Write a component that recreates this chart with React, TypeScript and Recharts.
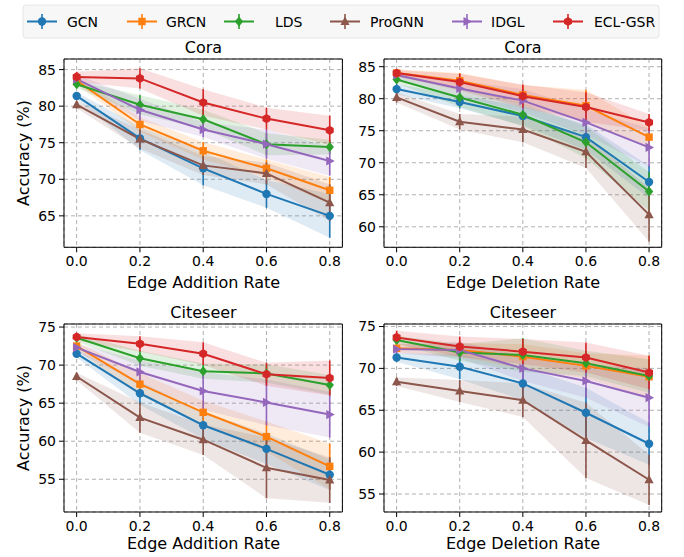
import React from "react";
import {
  ComposedChart,
  Line,
  Area,
  XAxis,
  YAxis,
  CartesianGrid,
  ErrorBar,
  ReferenceArea,
} from "recharts";

const METHODS = ["GCN", "GRCN", "LDS", "ProGNN", "IDGL", "ECL-GSR"];
const RATES = [0, 0.2, 0.4, 0.6, 0.8];

// rows follow METHODS order, columns follow RATES
const coraAddMean = [
  [81.4, 75.6, 71.5, 68.0, 65.0],
  [83.5, 77.5, 73.9, 71.5, 68.5],
  [83.0, 80.2, 78.2, 74.8, 74.4],
  [80.2, 75.5, 71.9, 70.8, 66.8],
  [83.7, 79.5, 76.8, 74.8, 72.5],
  [84.0, 83.8, 80.5, 78.3, 76.7],
];
const coraAddStd = [
  [0.5, 1.6, 2.3, 1.9, 3.0],
  [0.5, 1.0, 1.2, 1.2, 1.8],
  [0.5, 1.3, 1.3, 1.5, 1.0],
  [0.5, 1.3, 1.3, 1.5, 2.5],
  [0.6, 1.5, 1.0, 2.0, 2.0],
  [0.7, 1.4, 1.8, 1.5, 2.0],
];
const coraDelMean = [
  [81.5, 79.5, 77.3, 74.0, 67.0],
  [84.0, 82.8, 80.6, 78.9, 74.0],
  [83.0, 80.2, 77.5, 73.2, 65.5],
  [80.2, 76.4, 75.2, 71.7, 61.9],
  [83.7, 81.6, 79.7, 76.3, 72.4],
  [84.0, 82.6, 80.4, 78.7, 76.3],
];
const coraDelStd = [
  [0.8, 1.0, 1.5, 2.0, 2.5],
  [0.6, 1.2, 1.5, 2.5, 1.5],
  [0.6, 1.5, 1.8, 2.5, 3.0],
  [0.8, 1.2, 2.0, 2.5, 4.2],
  [0.5, 1.2, 1.8, 2.0, 3.0],
  [0.5, 1.3, 1.8, 2.3, 1.3],
];
const citeAddMean = [
  [71.5, 66.3, 62.1, 59.0, 55.6],
  [72.5, 67.5, 63.8, 60.6, 56.7],
  [73.6, 70.9, 69.2, 68.9, 67.4],
  [68.5, 63.1, 60.2, 56.5, 54.9],
  [72.3, 69.1, 66.6, 65.1, 63.5],
  [73.7, 72.8, 71.5, 68.8, 68.3],
];
const citeAddStd = [
  [0.5, 1.5, 1.8, 2.0, 2.0],
  [0.5, 1.5, 1.5, 2.0, 3.0],
  [0.5, 1.0, 1.0, 1.2, 1.3],
  [0.5, 2.0, 2.0, 4.0, 3.0],
  [0.5, 1.5, 2.5, 3.0, 3.0],
  [0.5, 1.0, 1.5, 1.5, 2.3],
];
const citeDelMean = [
  [71.3, 70.2, 68.2, 64.7, 61.0],
  [72.4, 72.2, 71.4, 70.3, 69.0],
  [73.4, 71.9, 71.6, 70.6, 69.1],
  [68.4, 67.3, 66.2, 61.4, 56.7],
  [72.3, 72.2, 70.0, 68.5, 66.5],
  [73.7, 72.6, 72.0, 71.3, 69.5],
];
const citeDelStd = [
  [0.5, 1.5, 2.0, 3.0, 2.5],
  [0.5, 0.8, 1.5, 1.5, 2.5],
  [0.5, 1.0, 2.0, 1.5, 2.0],
  [0.5, 1.3, 2.0, 4.5, 3.0],
  [0.5, 1.0, 1.5, 2.0, 3.5],
  [0.8, 1.2, 1.5, 1.8, 2.0],
];

const COLORS = ["#1f77b4", "#ff7f0e", "#2ca02c", "#8c564b", "#9467bd", "#d62728"];
const SHAPES = ["circle", "square", "diamond", "triUp", "triRight", "hexagon"];
const FONT = "DejaVu Sans, sans-serif";

function Mark({ cx, cy, shape, color }: { cx: number; cy: number; shape: string; color: string }) {
  if (cx == null || cy == null) return null;
  switch (shape) {
    case "circle":
      return <circle cx={cx} cy={cy} r={4.2} fill={color} />;
    case "square":
      return <rect x={cx - 3.7} y={cy - 3.7} width={7.4} height={7.4} fill={color} />;
    case "diamond":
      return <polygon points={`${cx},${cy - 5} ${cx + 4.2},${cy} ${cx},${cy + 5} ${cx - 4.2},${cy}`} fill={color} />;
    case "triUp":
      return <polygon points={`${cx},${cy - 5} ${cx + 4.6},${cy + 3.5} ${cx - 4.6},${cy + 3.5}`} fill={color} />;
    case "triRight":
      return <polygon points={`${cx + 5},${cy} ${cx - 3.5},${cy - 4.6} ${cx - 3.5},${cy + 4.6}`} fill={color} />;
    default: {
      const pts = [0, 1, 2, 3, 4, 5]
        .map((k) => {
          const a = (Math.PI / 3) * k - Math.PI / 2;
          return `${cx + 4.6 * Math.cos(a)},${cy + 4.6 * Math.sin(a)}`;
        })
        .join(" ");
      return <polygon points={pts} fill={color} />;
    }
  }
}

function buildRows(mean: number[][], std: number[][]) {
  return RATES.map((r, i) => {
    const row: Record<string, any> = { rate: r };
    METHODS.forEach((_, s) => {
      row[`m${s}`] = mean[s][i];
      row[`e${s}`] = std[s][i];
      row[`b${s}`] = [mean[s][i] - std[s][i], mean[s][i] + std[s][i]];
    });
    return row;
  });
}

interface PanelProps {
  mean: number[][];
  std: number[][];
  yDomain: [number, number];
  yTicks: number[];
  plotLeft: number;
  plotTop: number;
  plotW: number;
  plotH: number;
}

const X_DOMAIN: [number, number] = [-0.04, 0.84];

function Panel({ mean, std, yDomain, yTicks, plotLeft, plotTop, plotW, plotH }: PanelProps) {
  const data = buildRows(mean, std);
  const padL = 60, padT = 10, padR = 10, padB = 40;
  const yW = 40, xH = 30;
  return (
    <div style={{ position: "absolute", left: plotLeft - padL, top: plotTop - padT }}>
      <ComposedChart
        width={plotW + padL + padR}
        height={plotH + padT + padB}
        data={data}
        margin={{ top: padT, right: padR, left: padL - yW, bottom: padB - xH }}
      >
        <CartesianGrid stroke="#b0b0b0" strokeDasharray="4 3" />
        <XAxis
          dataKey="rate"
          type="number"
          domain={X_DOMAIN}
          ticks={RATES}
          allowDataOverflow
          height={xH}
          tickFormatter={(v: number) => v.toFixed(1)}
          tick={{ fill: "#000", fontSize: 14, fontFamily: FONT }}
          tickLine={{ stroke: "#000" }}
          tickSize={5}
          tickMargin={4}
          axisLine={false}
        />
        <YAxis
          type="number"
          domain={yDomain}
          ticks={yTicks}
          allowDataOverflow
          width={yW}
          tick={{ fill: "#000", fontSize: 14, fontFamily: FONT }}
          tickLine={{ stroke: "#000" }}
          tickSize={5}
          tickMargin={3}
          axisLine={false}
        />
        {METHODS.map((m, s) => (
          <Area
            key={`a${s}`}
            type="linear"
            dataKey={`b${s}`}
            stroke="none"
            fill={COLORS[s]}
            fillOpacity={0.15}
            isAnimationActive={false}
            activeDot={false}
          />
        ))}
        {METHODS.map((m, s) => (
          <Line
            key={`l${s}`}
            name={m}
            type="linear"
            dataKey={`m${s}`}
            stroke={COLORS[s]}
            strokeWidth={2}
            isAnimationActive={false}
            activeDot={false}
            dot={(p: any) => (
              <Mark key={`d${s}-${p.index}`} cx={p.cx} cy={p.cy} shape={SHAPES[s]} color={COLORS[s]} />
            )}
          >
            <ErrorBar dataKey={`e${s}`} direction="y" width={0} stroke={COLORS[s]} strokeWidth={1.6} />
          </Line>
        ))}
        <ReferenceArea
          x1={X_DOMAIN[0]}
          x2={X_DOMAIN[1]}
          y1={yDomain[0]}
          y2={yDomain[1]}
          fill="none"
          stroke="#000"
          strokeWidth={1}
          ifOverflow="visible"
        />
      </ComposedChart>
    </div>
  );
}

const LEGEND_LINE_X = [27, 127, 224, 330, 452, 553];
const LEGEND_TEXT_X = [67, 166, 275, 370, 491, 594];

function Overlay() {
  const t = { fontFamily: FONT, fill: "#000" } as const;
  return (
    <svg width={684} height={557} style={{ position: "absolute", left: 0, top: 0, pointerEvents: "none" }}>
      <rect x={23} y={5} width={636} height={33} rx={3} fill="#f7f7f7" stroke="#e6e6e6" />
      {METHODS.map((m, s) => {
        const x0 = LEGEND_LINE_X[s];
        return (
          <g key={m}>
            <line x1={x0} x2={x0 + 30} y1={21.5} y2={21.5} stroke={COLORS[s]} strokeWidth={2} />
            <line x1={x0 + 15} x2={x0 + 15} y1={14} y2={29} stroke={COLORS[s]} strokeWidth={1.6} />
            <Mark cx={x0 + 15} cy={21.5} shape={SHAPES[s]} color={COLORS[s]} />
            <text x={LEGEND_TEXT_X[s]} y={26.5} fontSize={14} {...t}>
              {m}
            </text>
          </g>
        );
      })}
      <text x={203.5} y={53} fontSize={16} textAnchor="middle" {...t}>Cora</text>
      <text x={523} y={53} fontSize={16} textAnchor="middle" {...t}>Cora</text>
      <text x={203.5} y={318} fontSize={16} textAnchor="middle" {...t}>Citeseer</text>
      <text x={523} y={318} fontSize={16} textAnchor="middle" {...t}>Citeseer</text>
      <text x={203.5} y={288} fontSize={16} textAnchor="middle" {...t}>Edge Addition Rate</text>
      <text x={523} y={288} fontSize={16} textAnchor="middle" {...t}>Edge Deletion Rate</text>
      <text x={203.5} y={549} fontSize={16} textAnchor="middle" {...t}>Edge Addition Rate</text>
      <text x={523} y={549} fontSize={16} textAnchor="middle" {...t}>Edge Deletion Rate</text>
      <text x={29} y={153} fontSize={16} textAnchor="middle" transform="rotate(-90 29 153)" {...t}>
        Accuracy (%)
      </text>
      <text x={29} y={418} fontSize={16} textAnchor="middle" transform="rotate(-90 29 418)" {...t}>
        Accuracy (%)
      </text>
    </svg>
  );
}

export default function App() {
  return (
    <div style={{ position: "absolute", left: 0, top: 0, width: 684, height: 557, background: "#fff", fontFamily: FONT }}>
      <Panel mean={coraAddMean} std={coraAddStd} yDomain={[60.7, 86.45]} yTicks={[65, 70, 75, 80, 85]}
        plotLeft={64.3} plotTop={59} plotW={278.4} plotH={188.3} />
      <Panel mean={coraDelMean} std={coraDelStd} yDomain={[56.8, 86.2]} yTicks={[60, 65, 70, 75, 80, 85]}
        plotLeft={384.3} plotTop={59} plotW={277.7} plotH={188.3} />
      <Panel mean={citeAddMean} std={citeAddStd} yDomain={[50.7, 75.4]} yTicks={[55, 60, 65, 70, 75]}
        plotLeft={64.3} plotTop={324} plotW={278.4} plotH={188} />
      <Panel mean={citeDelMean} std={citeDelStd} yDomain={[52.85, 75.3]} yTicks={[55, 60, 65, 70, 75]}
        plotLeft={384.3} plotTop={324} plotW={277.7} plotH={188} />
      <Overlay />
    </div>
  );
}
